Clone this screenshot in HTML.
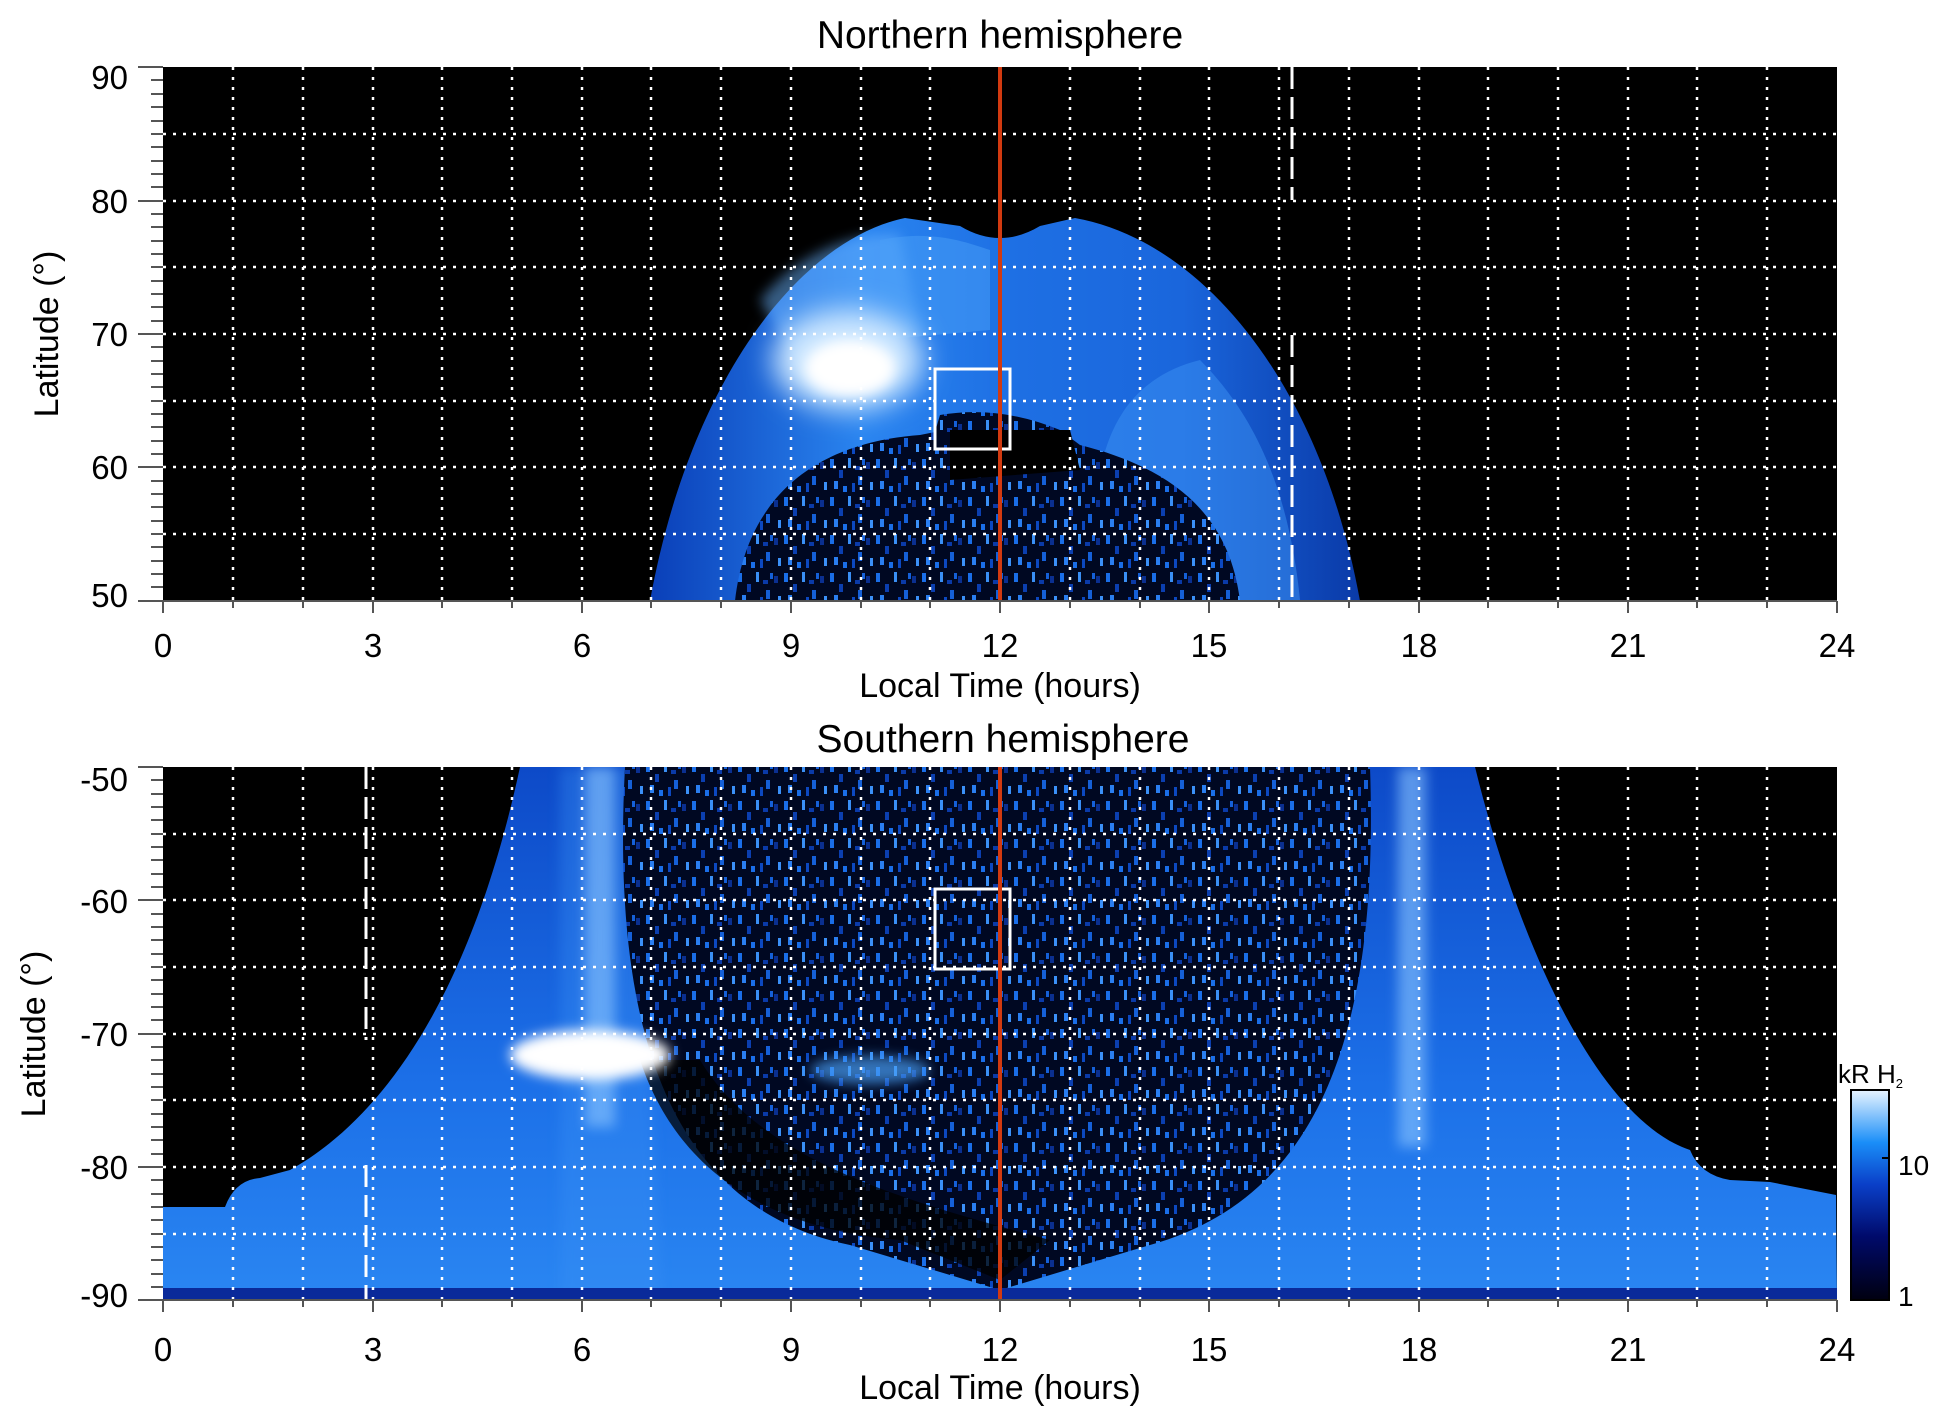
<!DOCTYPE html>
<html><head><meta charset="utf-8"><style>
html,body{margin:0;padding:0;background:#fff;}
svg{display:block;font-family:"Liberation Sans",sans-serif;}
</style></head><body>
<svg width="1950" height="1423" viewBox="0 0 1950 1423" xmlns="http://www.w3.org/2000/svg">
<defs>
<pattern id="spk" width="46" height="38" patternUnits="userSpaceOnUse">
<rect width="46" height="38" fill="#000822"/>
<rect x="2" y="3" width="4" height="9" fill="#1a6ee8"/>
<rect x="11" y="14" width="4" height="8" fill="#0b3fb0"/>
<rect x="20" y="2" width="3" height="10" fill="#3a8ff5"/>
<rect x="30" y="20" width="4" height="9" fill="#1560d8"/>
<rect x="38" y="6" width="4" height="7" fill="#0a2f90"/>
<rect x="6" y="25" width="4" height="8" fill="#2a7ef0"/>
<rect x="24" y="27" width="3" height="9" fill="#0c48c0"/>
<rect x="15" y="30" width="4" height="6" fill="#1a6ee8"/>
<rect x="42" y="26" width="3" height="8" fill="#3b90f8"/>
<rect x="34" y="3" width="3" height="6" fill="#1560d8"/>
<rect x="27" y="10" width="5" height="4" fill="#0a3aa8"/>
</pattern>
<linearGradient id="cb" x1="0" y1="1" x2="0" y2="0">
<stop offset="0" stop-color="#000010"/><stop offset="0.3" stop-color="#000a6a"/>
<stop offset="0.55" stop-color="#0a3fc8"/><stop offset="0.75" stop-color="#1a8ef8"/>
<stop offset="1" stop-color="#e8f4ff"/></linearGradient>
<linearGradient id="topband" x1="0" y1="0" x2="1" y2="0">
<stop offset="0" stop-color="#0a3fb8"/><stop offset="0.3" stop-color="#2a85f0"/>
<stop offset="0.5" stop-color="#1e70e4"/><stop offset="0.75" stop-color="#1a66dc"/>
<stop offset="1" stop-color="#0a3aa8"/></linearGradient>
<linearGradient id="botband" x1="0" y1="0" x2="0" y2="1">
<stop offset="0" stop-color="#0d4ac8"/><stop offset="0.6" stop-color="#1c70e8"/>
<stop offset="1" stop-color="#2a86f2"/></linearGradient>
<filter id="bl" x="-50%" y="-50%" width="200%" height="200%"><feGaussianBlur stdDeviation="14"/></filter>
<filter id="bl2" x="-50%" y="-50%" width="200%" height="200%"><feGaussianBlur stdDeviation="6"/></filter>
<clipPath id="c1"><rect x="163" y="67" width="1674" height="534"/></clipPath>
<clipPath id="c2"><rect x="163" y="767" width="1674" height="533"/></clipPath>
</defs>

<!-- TOP PANEL -->
<text x="1000" y="48" font-size="39" text-anchor="middle">Northern hemisphere</text>
<rect x="163" y="67" width="1674" height="534" fill="#000"/>
<g clip-path="url(#c1)">
<path d="M650,601 C690,380 800,240 905,218 L960,226 Q1000,250 1040,226 L1075,218 C1200,240 1320,380 1360,601 Z" fill="url(#topband)"/>
<path d="M760,300 C800,250 860,230 900,235 L920,330 L820,400 Z" fill="#6ab4ff" opacity="0.5" filter="url(#bl2)"/>
<path d="M880,240 C930,230 960,240 990,250 L990,330 L880,340 Z" fill="#4aa0f8" opacity="0.5"/>
<path d="M1100,600 C1080,450 1120,380 1200,360 C1260,420 1290,500 1300,600 Z" fill="#3b92f4" opacity="0.5"/>
<ellipse cx="848" cy="360" rx="75" ry="50" fill="#cfe8ff" filter="url(#bl)"/>
<ellipse cx="850" cy="368" rx="45" ry="28" fill="#fff" filter="url(#bl2)"/>
<path d="M735,601 C750,470 850,440 920,435 L935,432 L940,415 Q1000,405 1060,430 L1080,445 C1180,470 1230,520 1240,601 Z" fill="url(#spk)"/>
<path d="M950,430 L1070,430 L1080,470 L950,480 Z" fill="#000"/>
</g>
<g stroke="#fff" stroke-width="2.5" stroke-dasharray="3,7" clip-path="url(#c1)">
<path d="M233,67V601M303,67V601M373,67V601M442,67V601M512,67V601M582,67V601M651,67V601M721,67V601M791,67V601M861,67V601M930,67V601M1070,67V601M1140,67V601M1209,67V601M1279,67V601M1349,67V601M1419,67V601M1488,67V601M1558,67V601M1628,67V601M1697,67V601M1767,67V601"/>
<path d="M163,134H1837M163,201H1837M163,267H1837M163,334H1837M163,401H1837M163,467H1837M163,534H1837"/>
</g>
<g stroke="#fff" stroke-width="3" stroke-dasharray="22,8"><path d="M1292,67V200M1292,335V601"/></g>
<rect x="935" y="369" width="75" height="80" fill="none" stroke="#fff" stroke-width="3"/>
<line x1="1000" y1="67" x2="1000" y2="601" stroke="#d23a10" stroke-width="4"/>
<g stroke="#555" stroke-width="2">
<line x1="138" y1="67" x2="163" y2="67"/><line x1="138" y1="201" x2="163" y2="201"/><line x1="138" y1="334" x2="163" y2="334"/><line x1="138" y1="467" x2="163" y2="467"/><line x1="138" y1="601" x2="1837" y2="601"/>
<path d="M151,80H163M151,94H163M151,107H163M151,121H163M151,134H163M151,147H163M151,161H163M151,174H163M151,187H163M151,214H163M151,227H163M151,241H163M151,254H163M151,267H163M151,281H163M151,294H163M151,307H163M151,321H163M151,347H163M151,361H163M151,374H163M151,387H163M151,401H163M151,414H163M151,427H163M151,441H163M151,454H163M151,481H163M151,494H163M151,507H163M151,521H163M151,534H163M151,547H163M151,561H163M151,574H163M151,587H163"/>
<path d="M163,601v12M373,601v12M582,601v12M791,601v12M1000,601v12M1209,601v12M1419,601v12M1628,601v12M1837,601v12M233,601v7M303,601v7M442,601v7M512,601v7M651,601v7M721,601v7M861,601v7M930,601v7M1070,601v7M1140,601v7M1279,601v7M1349,601v7M1488,601v7M1558,601v7M1697,601v7M1767,601v7"/>
</g>
<g font-size="33" text-anchor="end"><text x="128" y="89">90</text><text x="128" y="213">80</text><text x="128" y="346">70</text><text x="128" y="479">60</text><text x="128" y="607">50</text></g>
<g font-size="33" text-anchor="middle"><text x="163" y="657">0</text><text x="373" y="657">3</text><text x="582" y="657">6</text><text x="791" y="657">9</text><text x="1000" y="657">12</text><text x="1209" y="657">15</text><text x="1419" y="657">18</text><text x="1628" y="657">21</text><text x="1837" y="657">24</text></g>
<text x="1000" y="697" font-size="34" text-anchor="middle">Local Time (hours)</text>
<text transform="translate(58,334) rotate(-90)" font-size="34" text-anchor="middle">Latitude (°)</text>

<!-- BOTTOM PANEL -->
<text x="1003" y="752" font-size="39" text-anchor="middle">Southern hemisphere</text>
<rect x="163" y="767" width="1674" height="533" fill="#000"/>
<g clip-path="url(#c2)">
<path d="M163,1300 L163,1207 L225,1207 Q235,1180 260,1178 L290,1170 C380,1120 470,1000 520,767 L1475,767 C1520,950 1600,1120 1690,1150 Q1700,1175 1730,1180 L1770,1182 L1836,1195 L1837,1300 Z" fill="url(#botband)"/>
<path d="M560,767 L640,767 L660,1300 L560,1300 Z" fill="#3a92f6" opacity="0.35" filter="url(#bl2)"/>
<rect x="585" y="767" width="30" height="360" fill="#8cc6ff" opacity="0.6" filter="url(#bl2)"/>
<rect x="1398" y="767" width="28" height="380" fill="#8cc6ff" opacity="0.6" filter="url(#bl2)"/>
<path d="M625,767 C610,1050 680,1210 850,1245 L1000,1290 L1150,1245 C1310,1200 1380,1050 1370,767 Z" fill="url(#spk)"/>
<path d="M640,1060 C680,1180 780,1230 900,1240 L1000,1280 L1050,1240 C900,1200 760,1160 700,1060 Z" fill="#000" opacity="0.75"/>
<ellipse cx="590" cy="1055" rx="80" ry="25" fill="#fff" filter="url(#bl2)"/>
<ellipse cx="870" cy="1070" rx="60" ry="14" fill="#4aa0f8" opacity="0.7" filter="url(#bl2)"/>
<rect x="163" y="1288" width="1674" height="12" fill="#0a2a9a"/>
</g>
<g stroke="#fff" stroke-width="2.5" stroke-dasharray="3,7" clip-path="url(#c2)">
<path d="M233,767V1300M303,767V1300M373,767V1300M442,767V1300M512,767V1300M582,767V1300M651,767V1300M721,767V1300M791,767V1300M861,767V1300M930,767V1300M1070,767V1300M1140,767V1300M1209,767V1300M1279,767V1300M1349,767V1300M1419,767V1300M1488,767V1300M1558,767V1300M1628,767V1300M1697,767V1300M1767,767V1300"/>
<path d="M163,834H1837M163,900H1837M163,967H1837M163,1034H1837M163,1100H1837M163,1167H1837M163,1234H1837"/>
</g>
<g stroke="#fff" stroke-width="3" stroke-dasharray="22,8"><path d="M366,767V1040M366,1165V1300"/></g>
<rect x="935" y="889" width="75" height="80" fill="none" stroke="#fff" stroke-width="3"/>
<line x1="1000" y1="767" x2="1000" y2="1300" stroke="#d23a10" stroke-width="4"/>
<g stroke="#555" stroke-width="2">
<line x1="138" y1="767" x2="163" y2="767"/><line x1="138" y1="900" x2="163" y2="900"/><line x1="138" y1="1034" x2="163" y2="1034"/><line x1="138" y1="1167" x2="163" y2="1167"/><line x1="138" y1="1300" x2="1837" y2="1300"/>
<path d="M151,780H163M151,794H163M151,807H163M151,820H163M151,834H163M151,847H163M151,860H163M151,874H163M151,887H163M151,914H163M151,927H163M151,940H163M151,954H163M151,967H163M151,980H163M151,994H163M151,1007H163M151,1020H163M151,1047H163M151,1060H163M151,1074H163M151,1087H163M151,1100H163M151,1114H163M151,1127H163M151,1140H163M151,1154H163M151,1180H163M151,1194H163M151,1207H163M151,1220H163M151,1234H163M151,1247H163M151,1260H163M151,1274H163M151,1287H163"/>
<path d="M163,1300v12M373,1300v12M582,1300v12M791,1300v12M1000,1300v12M1209,1300v12M1419,1300v12M1628,1300v12M1837,1300v12M233,1300v7M303,1300v7M442,1300v7M512,1300v7M651,1300v7M721,1300v7M861,1300v7M930,1300v7M1070,1300v7M1140,1300v7M1279,1300v7M1349,1300v7M1488,1300v7M1558,1300v7M1697,1300v7M1767,1300v7"/>
</g>
<g font-size="33" text-anchor="end"><text x="128" y="791">-50</text><text x="128" y="913">-60</text><text x="128" y="1046">-70</text><text x="128" y="1179">-80</text><text x="128" y="1307">-90</text></g>
<g font-size="33" text-anchor="middle"><text x="163" y="1361">0</text><text x="373" y="1361">3</text><text x="582" y="1361">6</text><text x="791" y="1361">9</text><text x="1000" y="1361">12</text><text x="1209" y="1361">15</text><text x="1419" y="1361">18</text><text x="1628" y="1361">21</text><text x="1837" y="1361">24</text></g>
<text x="1000" y="1399" font-size="34" text-anchor="middle">Local Time (hours)</text>
<text transform="translate(45,1034) rotate(-90)" font-size="34" text-anchor="middle">Latitude (°)</text>

<!-- colorbar -->
<text x="1838" y="1083" font-size="26">kR H<tspan font-size="13" dy="5">2</tspan></text>
<rect x="1851" y="1090" width="38" height="210" fill="url(#cb)" stroke="#000" stroke-width="2"/>
<g stroke="#000" stroke-width="2"><line x1="1882" y1="1158" x2="1889" y2="1158"/></g>
<text x="1898" y="1175" font-size="28">10</text>
<text x="1898" y="1306" font-size="28">1</text>
</svg>
</body></html>
